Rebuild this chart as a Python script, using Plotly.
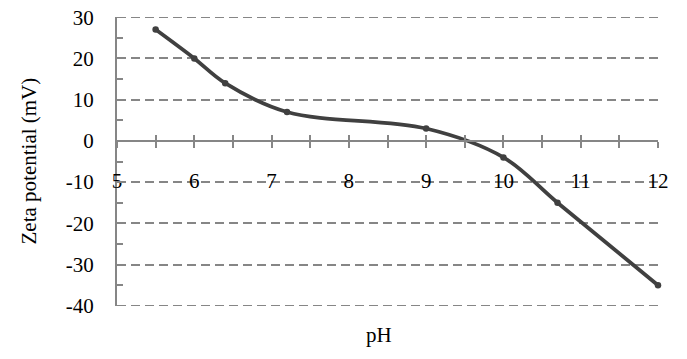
import plotly.graph_objects as go

ph = [5.5, 6.0, 6.4, 7.2, 9.0, 10.0, 10.7, 12.0]
zeta = [27, 20, 14, 7, 3, -4, -15, -35]
x_ticks = [5, 6, 7, 8, 9, 10, 11, 12]
y_ticks = [30, 20, 10, 0, -10, -20, -30, -40]

FONT = "Liberation Serif"
FS = 21
GRAY = "#868686"
LINE = "#404040"
DASH = "9px,5px"

fig = go.Figure()
fig.add_trace(go.Scatter(
    x=ph, y=zeta, mode="lines+markers",
    line=dict(color=LINE, width=3.8, shape="spline", smoothing=1.0),
    marker=dict(color=LINE, size=6.5),
    showlegend=False, xaxis="x", yaxis="y", cliponaxis=False,
))
fig.add_trace(go.Scatter(x=[5, 12], y=[0, 0], mode="markers",
                         marker=dict(opacity=0), showlegend=False,
                         hoverinfo="skip", xaxis="x2", yaxis="y"))

ylo, yhi = min(y_ticks) - 0.05, max(y_ticks) + 0.05
ypos = (0 - ylo) / (yhi - ylo)

fig.update_layout(
    width=687, height=359,
    margin=dict(l=109, r=37, t=9, b=61),
    paper_bgcolor="white", plot_bgcolor="white",
    font=dict(family=FONT, size=FS, color="black"),
    xaxis=dict(
        range=[5, 12], tickvals=x_ticks, ticktext=[str(v) for v in x_ticks],
        anchor="free", position=ypos, automargin=False,
        showline=True, linecolor=GRAY, linewidth=2,
        ticks="outside", ticklen=6, tickwidth=1.5, tickcolor=GRAY,
        minor=dict(dtick=0.5, ticks="outside", ticklen=6, tickwidth=1.5, tickcolor=GRAY, showgrid=False),
        showgrid=False, zeroline=False,
        ticklabelstandoff=15, ticklabeloverflow="allow",
        tickfont=dict(family=FONT, size=FS),
    ),
    xaxis2=dict(
        range=[5, 12], overlaying="x", anchor="free", position=ypos, automargin=False,
        tickvals=x_ticks, showticklabels=False,
        showline=False, ticks="inside", ticklen=6, tickwidth=1.5, tickcolor=GRAY,
        minor=dict(dtick=0.5, ticks="inside", ticklen=6, tickwidth=1.5, tickcolor=GRAY, showgrid=False),
        showgrid=False, zeroline=False,
    ),
    yaxis=dict(
        range=[ylo, yhi], tickvals=y_ticks, ticktext=[str(v) for v in y_ticks],
        automargin=False,
        showline=True, linecolor=GRAY, linewidth=2,
        ticks="inside", ticklen=6, tickwidth=1.5, tickcolor=GRAY,
        minor=dict(dtick=5, ticks="inside", ticklen=6, tickwidth=1.5, tickcolor=GRAY, showgrid=False),
        showgrid=True, gridcolor=GRAY, gridwidth=1.5, griddash=DASH,
        zeroline=False,
        ticklabelstandoff=17, ticklabeloverflow="allow",
        tickfont=dict(family=FONT, size=FS),
    ),
)
# edge gridlines (plotly skips gridlines at the range ends)
for yv in (max(y_ticks), min(y_ticks)):
    fig.add_shape(type="line", xref="paper", yref="y", x0=0, x1=1, y0=yv, y1=yv,
                  line=dict(color=GRAY, width=1.5, dash=DASH), layer="below")

fig.add_annotation(text="Zeta potential (mV)", xref="paper", yref="paper",
                   x=0, y=0.5, xshift=-89, textangle=-90, showarrow=False,
                   xanchor="center", yanchor="middle",
                   font=dict(family=FONT, size=FS))
fig.add_annotation(text="pH", xref="paper", yref="paper", x=0.485, y=0,
                   yshift=-29, yanchor="middle", showarrow=False,
                   font=dict(family=FONT, size=FS))

fig.write_html("out.html")
